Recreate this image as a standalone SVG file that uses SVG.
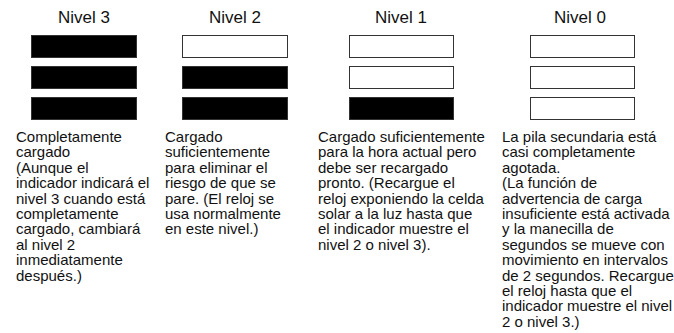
<svg xmlns="http://www.w3.org/2000/svg" width="674" height="333" viewBox="0 0 674 333">
<style>
.t{font-family:"Liberation Sans",Arial,Helvetica,sans-serif;font-size:17px;fill:#111;text-anchor:middle}
.b{font-family:"Liberation Sans",Arial,Helvetica,sans-serif;font-size:15px;fill:#111}
.on{fill:#000;stroke:#333;stroke-width:1}
.off{fill:#fff;stroke:#333;stroke-width:1}
</style>
<rect width="674" height="333" fill="#fff"/>
<g id="nivel3">
<text class="t" x="84" y="23">Nivel 3</text>
<rect class="on" x="31.5" y="35.5" width="105" height="22"/>
<rect class="on" x="31.5" y="66.5" width="105" height="22"/>
<rect class="on" x="31.5" y="97.5" width="105" height="22"/>
<text class="b" y="142">
<tspan x="16">Completamente</tspan>
<tspan x="16" dy="15.4">cargado</tspan>
<tspan x="16" dy="15.4">(Aunque el</tspan>
<tspan x="16" dy="15.4">indicador indicará el</tspan>
<tspan x="16" dy="15.4">nivel 3 cuando está</tspan>
<tspan x="16" dy="15.4">completamente</tspan>
<tspan x="16" dy="15.4">cargado, cambiará</tspan>
<tspan x="16" dy="15.4">al nivel 2</tspan>
<tspan x="16" dy="15.4">inmediatamente</tspan>
<tspan x="16" dy="15.4">después.)</tspan>
</text>
</g>
<g id="nivel2">
<text class="t" x="235" y="23">Nivel 2</text>
<rect class="off" x="182.5" y="35.5" width="105" height="22"/>
<rect class="on" x="182.5" y="66.5" width="105" height="22"/>
<rect class="on" x="182.5" y="97.5" width="105" height="22"/>
<text class="b" y="142">
<tspan x="165">Cargado</tspan>
<tspan x="165" dy="15.4">suficientemente</tspan>
<tspan x="165" dy="15.4">para eliminar el</tspan>
<tspan x="165" dy="15.4">riesgo de que se</tspan>
<tspan x="165" dy="15.4">pare. (El reloj se</tspan>
<tspan x="165" dy="15.4">usa normalmente</tspan>
<tspan x="165" dy="15.4">en este nivel.)</tspan>
</text>
</g>
<g id="nivel1">
<text class="t" x="401" y="23">Nivel 1</text>
<rect class="off" x="349.5" y="35.5" width="104" height="22"/>
<rect class="off" x="349.5" y="66.5" width="104" height="22"/>
<rect class="on" x="349.5" y="97.5" width="104" height="22"/>
<text class="b" y="142">
<tspan x="318">Cargado suficientemente</tspan>
<tspan x="318" dy="15.4">para la hora actual pero</tspan>
<tspan x="318" dy="15.4">debe ser recargado</tspan>
<tspan x="318" dy="15.4">pronto. (Recargue el</tspan>
<tspan x="318" dy="15.4">reloj exponiendo la celda</tspan>
<tspan x="318" dy="15.4">solar a la luz hasta que</tspan>
<tspan x="318" dy="15.4">el indicador muestre el</tspan>
<tspan x="318" dy="15.4">nivel 2 o nivel 3).</tspan>
</text>
</g>
<g id="nivel0">
<text class="t" x="580" y="23">Nivel 0</text>
<rect class="off" x="530.5" y="35.5" width="104" height="22"/>
<rect class="off" x="530.5" y="66.5" width="104" height="22"/>
<rect class="off" x="530.5" y="97.5" width="104" height="22"/>
<text class="b" y="142">
<tspan x="502">La pila secundaria está</tspan>
<tspan x="502" dy="15.4">casi completamente</tspan>
<tspan x="502" dy="15.4">agotada.</tspan>
<tspan x="502" dy="15.4">(La función de</tspan>
<tspan x="502" dy="15.4">advertencia de carga</tspan>
<tspan x="502" dy="15.4">insuficiente está activada</tspan>
<tspan x="502" dy="15.4">y la manecilla de</tspan>
<tspan x="502" dy="15.4">segundos se mueve con</tspan>
<tspan x="502" dy="15.4">movimiento en intervalos</tspan>
<tspan x="502" dy="15.4">de 2 segundos. Recargue</tspan>
<tspan x="502" dy="15.4">el reloj hasta que el</tspan>
<tspan x="502" dy="15.4">indicador muestre el nivel</tspan>
<tspan x="502" dy="15.4">2 o nivel 3.)</tspan>
</text>
</g>
<g id="connectors"/>
</svg>
